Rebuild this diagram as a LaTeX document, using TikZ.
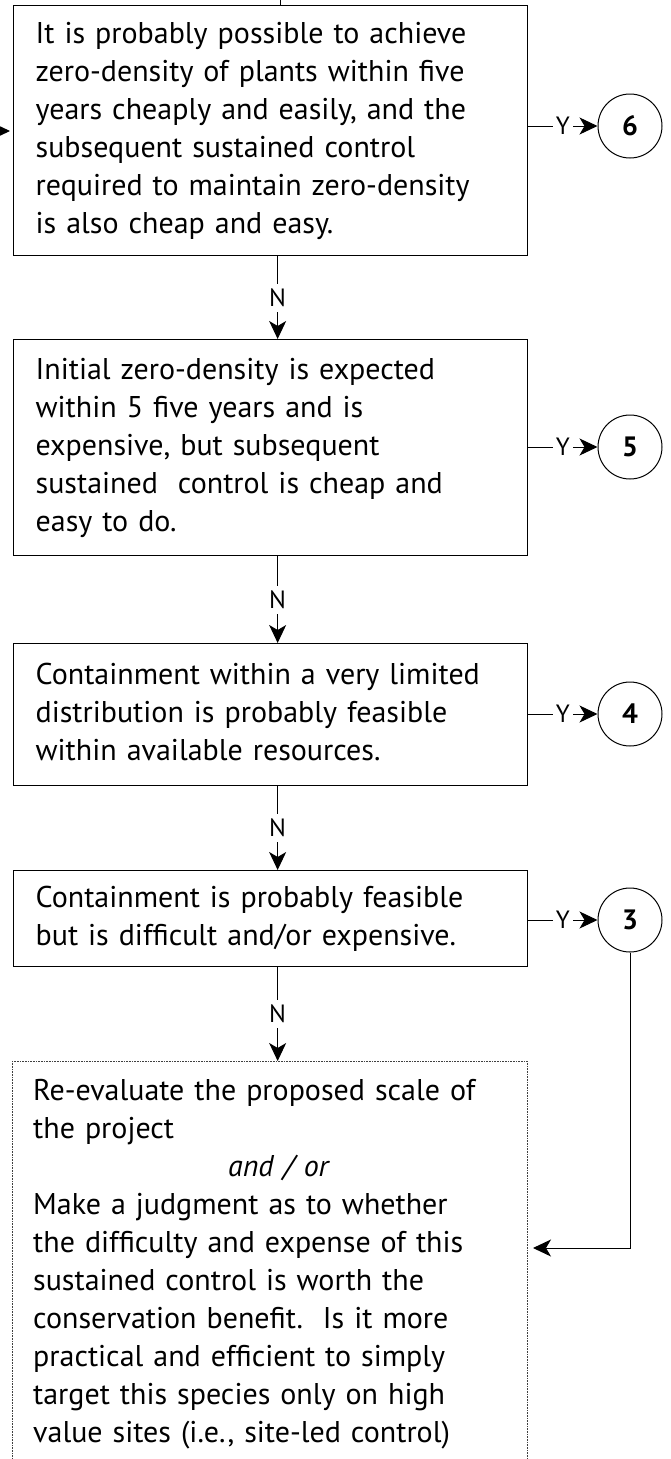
\documentclass[tikz,border=0pt]{standalone}
\usepackage{fontspec}
\setmainfont{PT Sans}
\usetikzlibrary{arrows.meta}
\begin{document}
\begin{tikzpicture}[x=1pt,y=-1pt,
  txt/.style={font=\fontsize{30}{38}\selectfont},
  box/.style={txt, draw, line width=1.3pt, rectangle, anchor=north west,
    minimum width=514pt, text width=470pt, align=left, inner xsep=22pt, inner ysep=0pt},
  frame/.style={draw=black!75, line width=0.8pt, dash pattern=on 0.8pt off 0.8pt,
    rectangle, anchor=north west, inner sep=0pt},
  num/.style={circle, draw, line width=1pt, minimum size=64pt, inner sep=0pt,
    font=\fontsize{28}{30}\selectfont\bfseries},
  conn/.style={line width=1pt, -{Stealth[length=18pt,width=17pt,inset=5pt]}},
  ylab/.style={fill=white, inner xsep=3pt, inner ysep=2pt, font=\fontsize{25}{27}\selectfont},
  nlab/.style={fill=white, inner xsep=2pt, inner ysep=5pt, font=\fontsize{25}{27}\selectfont}]

\useasboundingbox (0,0) rectangle (671,1459);
\clip (0,0) rectangle (671,1459);

% decision boxes
\node[box, minimum height=250pt] (b1) at (13,5) {\strut It is probably possible to achieve\\
zero-density of plants within five\\
years cheaply and easily, and the\\
subsequent sustained control\\
required to maintain zero-density\\
is also cheap and easy.\strut};

\node[box, minimum height=216pt] (b2) at (13,339) {\strut Initial zero-density is expected\\
within 5 five years and is\\
expensive, but subsequent\\
sustained\ \ control is cheap and\\
easy to do.\strut};

\node[box, minimum height=142pt] (b3) at (13,643) {\strut Containment within a very limited\\
distribution is probably feasible\\
within available resources.\strut};

\node[box, minimum height=96pt] (b4) at (13,870) {\strut Containment is probably feasible\\
but is difficult and/or expensive.\strut};

% outcome circles
\node[num] (c6) at (630,126) {6};
\node[num] (c5) at (630,447) {5};
\node[num] (c4) at (630,714) {4};
\node[num] (c3) at (630,920) {3};

% final dotted box (runs off the bottom of the page)
\node[frame, minimum width=515pt, minimum height=460pt] (alt) at (12,1061) {};
\node[txt, anchor=north west, inner sep=0pt, text width=490pt, align=left] (altText)
  at (33,1073.4) {\strut Re-evaluate the proposed scale of\\
the project\\
\hspace*{195pt}\textit{and / or}\\
Make a judgment as to whether\\
the difficulty and expense of this\\
sustained control is worth the\\
conservation benefit.\ \ Is it more\\
practical and efficient to simply\\
target this species only on high\\
value sites (i.e., site-led control)\strut};

% incoming connectors
\coordinate (inL) at (0,131);
\coordinate (inT) at (280,0);
\draw[conn, shorten >=3pt] (inL) -- (inL -| b1.west);
\draw[line width=1pt] (inT) -- (inT |- b1.north);

% yes branches
\draw[conn] (b1.east |- c6) -- node[ylab]{Y} (c6.west);
\draw[conn] (b2.east |- c5) -- node[ylab]{Y} (c5.west);
\draw[conn] (b3.east |- c4) -- node[ylab]{Y} (c4.west);
\draw[conn] (b4.east |- c3) -- node[ylab]{Y} (c3.west);

% no branches
\draw[conn] ([xshift=7pt]b1.south) -- node[nlab]{N} ([xshift=7pt]b2.north);
\draw[conn] ([xshift=7pt]b2.south) -- node[nlab]{N} ([xshift=7pt]b3.north);
\draw[conn] ([xshift=7pt]b3.south) -- node[nlab]{N} ([xshift=7pt]b4.north);
\draw[conn] ([xshift=7pt]b4.south) -- node[nlab]{N} ([xshift=7pt]alt.north west -| b4.south);

% outcome 3 loops back to the dotted box
\coordinate (retEnd) at (533,1248);
\draw[conn] (c3.south) |- (retEnd);
\end{tikzpicture}
\end{document}
